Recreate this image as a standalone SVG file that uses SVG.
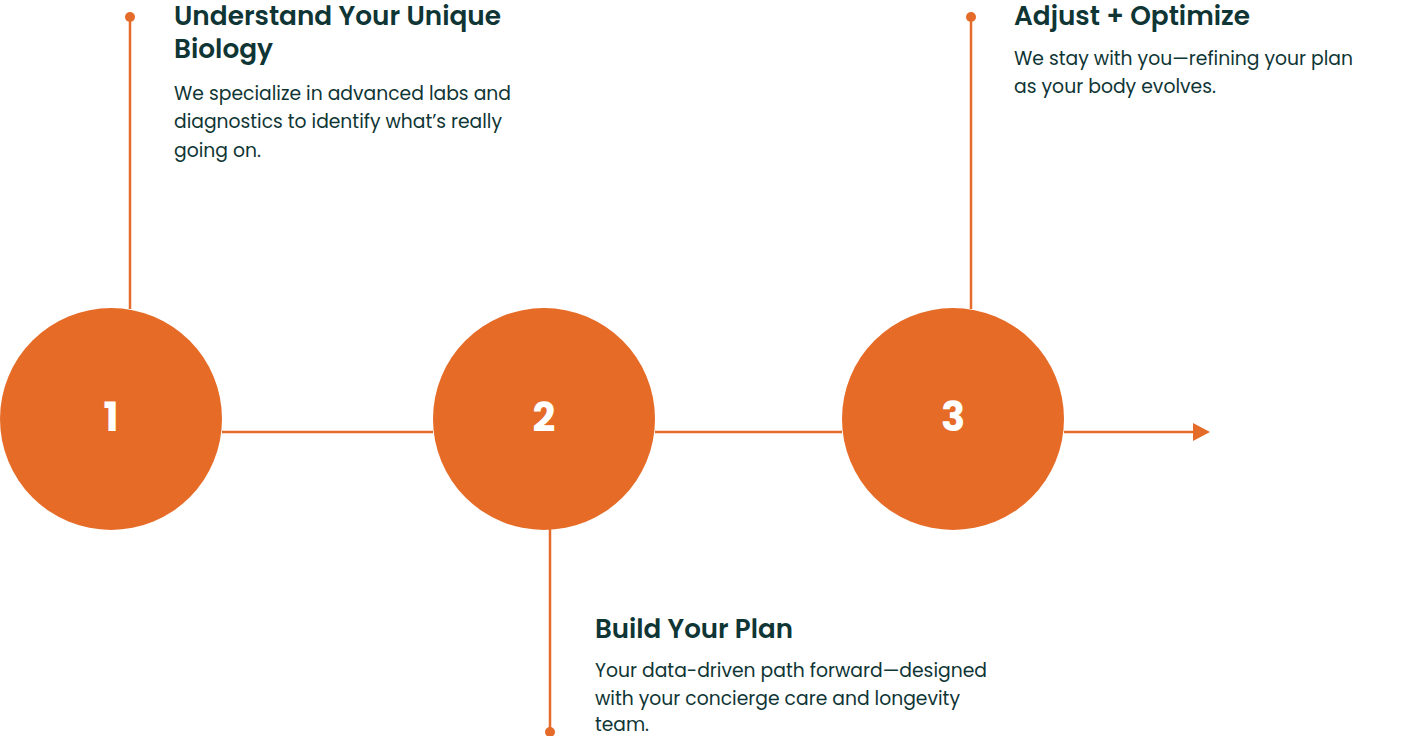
<svg xmlns="http://www.w3.org/2000/svg" width="1417" height="736" viewBox="0 0 1417 736">
<style>
.ln{stroke:#E56B2A;stroke-width:2.5;fill:none}
.dot{fill:#E56B2A}
.circ{fill:#E66B27}
.num{font-family:"Poppins","Inter","Liberation Sans",sans-serif;font-weight:700;font-size:40px;fill:#ffffff;text-anchor:middle}
.ttl{font-family:"Poppins","Inter","Liberation Sans",sans-serif;font-weight:600;font-size:26px;fill:#0F3535}
.body{font-family:"Poppins","Inter","Liberation Sans",sans-serif;font-weight:400;font-size:19px;fill:#0F3535}
</style>
<rect width="1417" height="736" fill="#ffffff"/>
<g id="connectors">
<line class="ln" x1="222" y1="432" x2="433" y2="432"/>
<line class="ln" x1="655" y1="432" x2="842" y2="432"/>
<line class="ln" x1="1064" y1="432" x2="1194" y2="432"/>
<path d="M1193,423 L1210,432 L1193,441 Z" fill="#E56B2A"/>
<line class="ln" x1="130" y1="17" x2="130" y2="309"/>
<circle class="dot" cx="130" cy="17" r="5"/>
<line class="ln" x1="550" y1="529" x2="550" y2="732"/>
<circle class="dot" cx="550" cy="732" r="5"/>
<line class="ln" x1="971" y1="17" x2="971" y2="309"/>
<circle class="dot" cx="971" cy="17" r="5"/>
</g>
<g id="node1">
<circle class="circ" cx="111" cy="419" r="111"/>
<text class="num" x="111" y="431">1</text>
</g>
<g id="node2">
<circle class="circ" cx="544" cy="419" r="111"/>
<text class="num" x="544" y="431">2</text>
</g>
<g id="node3">
<circle class="circ" cx="953" cy="419" r="111"/>
<text class="num" x="953" y="431">3</text>
</g>
<g id="label1">
<text class="ttl" x="174" y="25" textLength="327" lengthAdjust="spacingAndGlyphs">Understand Your Unique</text>
<text class="ttl" x="174" y="58" textLength="99" lengthAdjust="spacingAndGlyphs">Biology</text>
<text class="body" x="174" y="100" textLength="337" lengthAdjust="spacingAndGlyphs">We specialize in advanced labs and</text>
<text class="body" x="174" y="128" textLength="328" lengthAdjust="spacingAndGlyphs">diagnostics to identify what’s really</text>
<text class="body" x="174" y="157" textLength="87" lengthAdjust="spacingAndGlyphs">going on.</text>
</g>
<g id="label2">
<text class="ttl" x="595" y="638" textLength="198" lengthAdjust="spacingAndGlyphs">Build Your Plan</text>
<text class="body" x="595" y="677" textLength="392" lengthAdjust="spacingAndGlyphs">Your data-driven path forward—designed</text>
<text class="body" x="595" y="705" textLength="365" lengthAdjust="spacingAndGlyphs">with your concierge care and longevity</text>
<text class="body" x="595" y="731" textLength="54" lengthAdjust="spacingAndGlyphs">team.</text>
</g>
<g id="label3">
<text class="ttl" x="1014" y="25" textLength="236" lengthAdjust="spacingAndGlyphs">Adjust + Optimize</text>
<text class="body" x="1014" y="65" textLength="339" lengthAdjust="spacingAndGlyphs">We stay with you—refining your plan</text>
<text class="body" x="1014" y="93" textLength="202" lengthAdjust="spacingAndGlyphs">as your body evolves.</text>
</g>
</svg>
